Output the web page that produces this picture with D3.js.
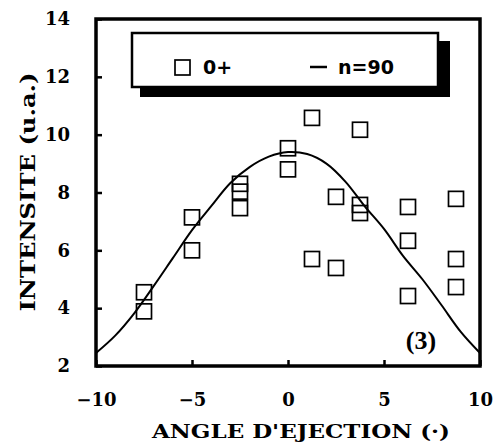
<!DOCTYPE html>
<html>
<head>
<meta charset="utf-8">
<script src="https://cdn.jsdelivr.net/npm/d3@7"></script>
<style>
  body { margin: 0; background: #fff; }
  svg { display: block; }
  .tick text { font-family: "DejaVu Serif", serif; font-weight: bold; font-size: 18px; fill: #000; }
</style>
</head>
<body>
<svg id="chart"></svg>
<script>
// measured points (angle, intensity)
let angles = [-7.5, -7.5, -5, -5, -2.5, -2.5, -2.5, 0, 0, 1.25, 1.25, 2.5, 2.5, 3.75, 3.75, 3.75, 6.25, 6.25, 6.25, 8.75, 8.75, 8.75];
let intensities = [4.55, 3.89, 7.14, 6.0, 8.3, 8.03, 7.46, 9.53, 8.8, 10.58, 5.7, 7.85, 5.39, 10.17, 7.57, 7.29, 7.5, 6.33, 4.42, 7.78, 5.7, 4.73];

// fitted curve n=90
let curveX = [-10, -9, -8, -7, -6, -5, -4, -3, -2, -1, 0, 1, 2, 3, 4, 5, 6, 7, 8, 9, 10];
let curveY = [2.45, 3.05, 3.83, 4.76, 5.73, 6.7, 7.53, 8.33, 8.88, 9.24, 9.4, 9.33, 9.0, 8.37, 7.52, 6.74, 5.8, 5.0, 4.1, 3.18, 2.45];

let xTicks = [-10, -5, 0, 5, 10];
let yTicks = [2, 4, 6, 8, 10, 12, 14];

let width = 497;
let height = 448;
let padLeft = 96, padRight = 480, padTop = 19, padBottom = 366;

let svg = d3.select("#chart")
    .attr("width", width)
    .attr("height", height);

let xScale = d3.scaleLinear()
    .domain([-10, 10])
    .range([padLeft, padRight]);

let yScale = d3.scaleLinear()
    .domain([2, 14])
    .range([padBottom, padTop]);

// axes with inward ticks
let yAxis = d3.axisLeft(yScale)
    .tickValues(yTicks)
    .tickFormat(d3.format("d"))
    .tickSizeInner(-6)
    .tickSizeOuter(0)
    .tickPadding(26);

let xAxis = d3.axisBottom(xScale)
    .tickValues(xTicks)
    .tickFormat(d3.format("d"))
    .tickSizeInner(-6)
    .tickSizeOuter(0)
    .tickPadding(27);

let gy = svg.append("g")
    .attr("transform", "translate(" + padLeft + ",0)")
    .call(yAxis);
let gx = svg.append("g")
    .attr("transform", "translate(0," + padBottom + ")")
    .call(xAxis);

[gx, gy].forEach(g => {
    g.select(".domain").remove();
    g.selectAll(".tick line").attr("stroke", "#000").attr("stroke-width", 2.5);
});
gx.selectAll(".tick text").attr("dy", "0.71em");

// frame
svg.append("rect")
    .attr("x", padLeft)
    .attr("y", padTop)
    .attr("width", padRight - padLeft)
    .attr("height", padBottom - padTop)
    .attr("fill", "none")
    .attr("stroke", "#000")
    .attr("stroke-width", 3.5);

// fitted curve
let line = d3.line()
    .x((d, i) => xScale(curveX[i]))
    .y(d => yScale(d))
    .curve(d3.curveCatmullRom);

svg.append("path")
    .datum(curveY)
    .attr("d", line)
    .attr("fill", "none")
    .attr("stroke", "#000")
    .attr("stroke-width", 2);

// data squares
let sq = 15;
svg.selectAll("rect.pt")
    .data(angles)
    .enter()
    .append("rect")
    .attr("class", "pt")
    .attr("x", d => xScale(d) - sq / 2)
    .attr("y", (d, i) => yScale(intensities[i]) - sq / 2)
    .attr("width", sq)
    .attr("height", sq)
    .attr("fill", "none")
    .attr("stroke", "#000")
    .attr("stroke-width", 1.7);

// legend with drop shadow
let legend = svg.append("g");
legend.append("rect")
    .attr("x", 140).attr("y", 41)
    .attr("width", 310).attr("height", 56)
    .attr("fill", "#000");
legend.append("rect")
    .attr("x", 132).attr("y", 33)
    .attr("width", 306).attr("height", 54)
    .attr("fill", "#fff")
    .attr("stroke", "#000")
    .attr("stroke-width", 2.5);
legend.append("rect")
    .attr("x", 175).attr("y", 60)
    .attr("width", 15).attr("height", 15)
    .attr("fill", "none")
    .attr("stroke", "#000")
    .attr("stroke-width", 1.7);
legend.append("text")
    .attr("x", 203).attr("y", 74)
    .style("font-family", "DejaVu Sans, sans-serif")
    .style("font-weight", "bold")
    .style("font-size", "19px")
    .text("0+");
legend.append("line")
    .attr("x1", 310).attr("x2", 327)
    .attr("y1", 67).attr("y2", 67)
    .attr("stroke", "#000")
    .attr("stroke-width", 2.5);
legend.append("text")
    .attr("x", 338).attr("y", 74)
    .attr("textLength", 56)
    .attr("lengthAdjust", "spacingAndGlyphs")
    .style("font-family", "DejaVu Sans, sans-serif")
    .style("font-weight", "bold")
    .style("font-size", "19px")
    .text("n=90");

// panel label
svg.append("text")
    .attr("x", 421).attr("y", 349)
    .style("text-anchor", "middle")
    .style("font-family", "Liberation Serif, serif")
    .style("font-weight", "bold")
    .style("font-size", "26px")
    .text("(3)");

// axis titles
svg.append("text")
    .attr("x", 301).attr("y", 438)
    .attr("textLength", 298)
    .attr("lengthAdjust", "spacingAndGlyphs")
    .style("text-anchor", "middle")
    .style("font-family", "DejaVu Serif, serif")
    .style("font-weight", "bold")
    .style("font-size", "19px")
    .text("ANGLE D'EJECTION (\u00b7)");

svg.append("text")
    .attr("transform", "rotate(-90)")
    .attr("x", -192).attr("y", 35)
    .attr("textLength", 239)
    .attr("lengthAdjust", "spacingAndGlyphs")
    .style("text-anchor", "middle")
    .style("font-family", "DejaVu Serif, serif")
    .style("font-weight", "bold")
    .style("font-size", "20px")
    .text("INTENSITE (u.a.)");
</script>
</body>
</html>
